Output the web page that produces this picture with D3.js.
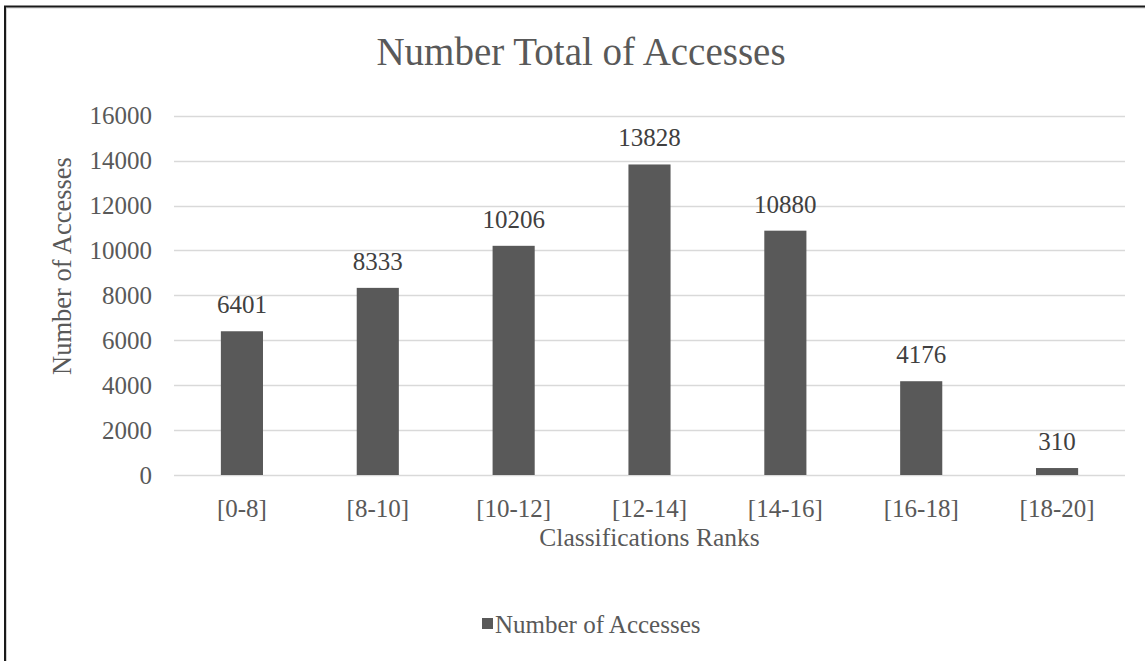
<!DOCTYPE html>
<html>
<head>
<meta charset="utf-8">
<script src="https://cdn.jsdelivr.net/npm/d3@7"></script>
<style>
  body { margin: 0; background: #fff; }
  text { font-family: "Liberation Serif", "Times New Roman", serif; }
</style>
</head>
<body>
<div id="chart"></div>
<script>
// data
const categories = ["[0-8]", "[8-10]", "[10-12]", "[12-14]", "[14-16]", "[16-18]", "[18-20]"];
const accesses = [6401, 8333, 10206, 13828, 10880, 4176, 310];
const yTicks = [0, 2000, 4000, 6000, 8000, 10000, 12000, 14000, 16000];

const totalWidth = 1145, totalHeight = 661;
const plot = {left: 174, right: 1125, top: 115.7, bottom: 475};

const svg = d3.select("#chart")
  .append("svg")
    .attr("width", totalWidth)
    .attr("height", totalHeight);

// frame (only top and left edges are visible)
svg.append("path")
  .attr("d", "M6.5," + totalHeight + "V8H" + totalWidth)
  .attr("fill", "none")
  .attr("stroke", "#d0d0d0")
  .attr("stroke-width", 1);
svg.append("path")
  .attr("d", "M5," + totalHeight + "V6.5H" + totalWidth)
  .attr("fill", "none")
  .attr("stroke", "#1a1a1a")
  .attr("stroke-width", 2);

const x = d3.scaleBand()
  .domain(categories)
  .range([plot.left, plot.right])
  .paddingInner(0.69)
  .paddingOuter(0.345);

const y = d3.scaleLinear()
  .domain([0, 16000])
  .range([plot.bottom, plot.top]);

// gridlines
svg.append("g")
  .selectAll("line")
  .data(yTicks)
  .enter()
  .append("line")
    .attr("x1", plot.left)
    .attr("x2", plot.right)
    .attr("y1", d => Math.round(y(d)) + 0.5)
    .attr("y2", d => Math.round(y(d)) + 0.5)
    .attr("stroke", "#d9d9d9")
    .attr("stroke-width", 1.3);

// Y axis
const yAxis = svg.append("g")
  .attr("transform", "translate(" + plot.left + ",0)")
  .call(d3.axisLeft(y).tickValues(yTicks).tickFormat(d3.format("d")).tickSize(0).tickPadding(22));
yAxis.select(".domain").remove();
yAxis.attr("font-family", "Liberation Serif");
yAxis.selectAll("text")
  .attr("font-size", 25)
  .attr("fill", "#595959");

// X axis
const xAxis = svg.append("g")
  .attr("transform", "translate(0," + plot.bottom + ")")
  .call(d3.axisBottom(x).tickSize(0).tickPadding(24));
xAxis.select(".domain").remove();
xAxis.attr("font-family", "Liberation Serif");
xAxis.selectAll("text")
  .attr("font-size", 25)
  .attr("fill", "#595959");

// bars
svg.append("g")
  .selectAll("rect")
  .data(accesses)
  .enter()
  .append("rect")
    .attr("x", (d, i) => x(categories[i]))
    .attr("y", d => y(d))
    .attr("width", x.bandwidth())
    .attr("height", d => y(0) - y(d))
    .attr("fill", "#595959");

// value labels
svg.append("g")
  .selectAll("text")
  .data(accesses)
  .enter()
  .append("text")
    .attr("x", (d, i) => x(categories[i]) + x.bandwidth() / 2)
    .attr("y", d => y(d) - 18)
    .attr("text-anchor", "middle")
    .attr("font-size", 25)
    .attr("fill", "#404040")
    .text(d => d);

// title
svg.append("text")
  .attr("x", 581)
  .attr("y", 65)
  .attr("text-anchor", "middle")
  .attr("font-size", 39)
  .attr("fill", "#595959")
  .text("Number Total of Accesses");

// axis titles
svg.append("text")
  .attr("transform", "translate(71,266) rotate(-90)")
  .attr("text-anchor", "middle")
  .attr("font-size", 26.5)
  .attr("fill", "#595959")
  .text("Number of Accesses");

svg.append("text")
  .attr("x", (plot.left + plot.right) / 2)
  .attr("y", 546)
  .attr("text-anchor", "middle")
  .attr("font-size", 25.5)
  .attr("fill", "#595959")
  .text("Classifications Ranks");

// legend
const legend = svg.append("g")
  .attr("transform", "translate(495,633)");
legend.append("rect")
  .attr("x", -13)
  .attr("y", -15)
  .attr("width", 11)
  .attr("height", 11)
  .attr("fill", "#595959");
legend.append("text")
  .attr("x", 0)
  .attr("y", 0)
  .attr("font-size", 25)
  .attr("fill", "#595959")
  .text("Number of Accesses");
</script>
</body>
</html>
